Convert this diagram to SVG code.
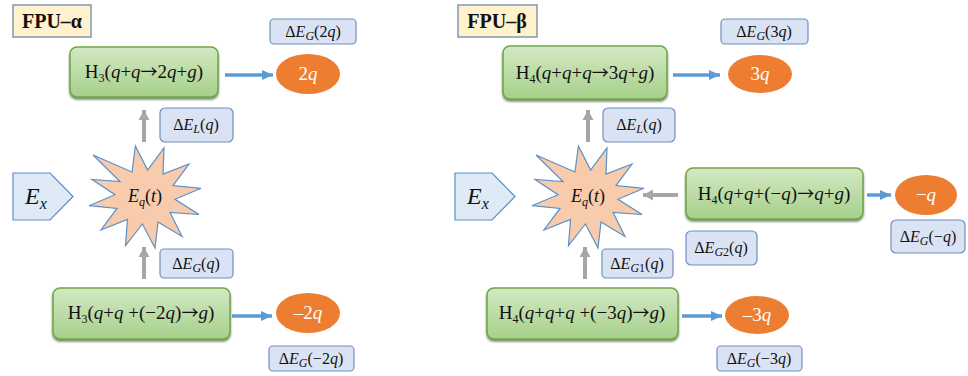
<svg xmlns="http://www.w3.org/2000/svg" width="968" height="376" viewBox="0 0 968 376" font-family="'Liberation Serif', 'Times New Roman', 'DejaVu Serif', serif">
<defs>
<linearGradient id="gr" x1="0" y1="0" x2="0" y2="1">
<stop offset="0" stop-color="#D3E9C4"/>
<stop offset="1" stop-color="#A6D08A"/>
</linearGradient>
<filter id="sh" x="-10%" y="-20%" width="120%" height="150%">
<feDropShadow dx="0" dy="2" stdDeviation="1.2" flood-color="#3A5A28" flood-opacity="0.7"/>
</filter>
<marker id="ag" markerUnits="userSpaceOnUse" markerWidth="12" markerHeight="12" refX="10" refY="6" orient="auto">
<path d="M0,0.5 L10,6 L0,11.5 Z" fill="#A6A6A6"/>
</marker>
<marker id="ab" markerUnits="userSpaceOnUse" markerWidth="12" markerHeight="12" refX="11" refY="6" orient="auto">
<path d="M0,1 L11,6 L0,11 Z" fill="#5B9BD5"/>
</marker>
<path id="star" d="M-9.6,-51 L2.6,-27 L19,-49 L18,-23 L44,-33 L28,-11.4 L56,-8.7 L30,2.3 L54,17.5 L25,15.5 L37,39.5 L13,25 L10,51 L-2.6,27 L-19.5,48.5 L-17.5,22.5 L-44,33 L-28,11.4 L-56,8.7 L-30,-2.3 L-53,-17.5 L-25,-15.5 L-52,-42 L-13,-25 Z"/>
</defs>
<style>
text{font-family:'Liberation Serif','Times New Roman','DejaVu Serif',serif;fill:#111}
.ar{font-family:'Noto Sans CJK SC','DejaVu Sans',sans-serif;font-size:17px}
.t{font-size:19px}
.l{font-size:16px}
.i{font-style:italic}
.s{font-size:12px}
.fpu{fill:#FFF2CC;stroke:#8497B0;stroke-width:1.5}
.fput{font-size:20px;font-weight:bold}
.box{fill:url(#gr);stroke:#6FA54B;stroke-width:1.5;filter:url(#sh)}
.lab{fill:#DAE3F3;stroke:#6F8FBF;stroke-width:1.2}
.ov{fill:#ED7D31}
.ot{font-size:19px;fill:#fff}
.ex{fill:#DEEBF7;stroke:#5B8FC8;stroke-width:1.2}
.st{fill:#F8CBAD;stroke:#5B8FC8;stroke-width:1.2}
.cg{stroke:#A6A6A6;stroke-width:4;fill:none;marker-end:url(#ag)}
.cb{stroke:#5B9BD5;stroke-width:3.5;fill:none;marker-end:url(#ab)}
</style>

<g id="connectors">
<line class="cg" x1="144" y1="142" x2="144" y2="110"/>
<line class="cg" x1="144" y1="279" x2="144" y2="247"/>
<line class="cb" x1="225" y1="75" x2="273" y2="75"/>
<line class="cb" x1="232" y1="316" x2="272" y2="316"/>
<line class="cg" x1="588" y1="142" x2="588" y2="110"/>
<line class="cg" x1="585" y1="279" x2="585" y2="247"/>
<line class="cg" x1="678" y1="195" x2="643" y2="195"/>
<line class="cb" x1="673" y1="75" x2="720" y2="75"/>
<line class="cb" x1="867" y1="195" x2="891" y2="195"/>
<line class="cb" x1="682" y1="316" x2="722" y2="316"/>
</g>

<!-- Left panel -->
<g id="fpu-alpha">
<rect class="fpu" x="13" y="5" width="78" height="32"/>
<text class="fput" x="52" y="28" text-anchor="middle">FPU–α</text>
</g>
<g id="dEG2q">
<rect class="lab" x="270" y="19" width="86" height="25" rx="4"/>
<text class="l" x="313" y="37" text-anchor="middle">Δ<tspan class="i">E</tspan><tspan class="i s" dy="3">G</tspan><tspan dy="-3">(2</tspan><tspan class="i">q</tspan>)</text>
</g>
<g id="H3top">
<rect class="box" x="70" y="47" width="148" height="50" rx="7"/>
<text class="t" x="144" y="78" text-anchor="middle">H<tspan class="s" dy="4">3</tspan><tspan dy="-4">(</tspan><tspan class="i">q</tspan>+<tspan class="i">q</tspan><tspan class="ar">→</tspan>2<tspan class="i">q</tspan>+<tspan class="i">g</tspan>)</text>
</g>
<g id="o2q">
<ellipse class="ov" cx="308" cy="74" rx="32" ry="20"/>
<text class="ot" x="308" y="80" text-anchor="middle">2<tspan class="i">q</tspan></text>
</g>
<g id="dELq">
<rect class="lab" x="160" y="108" width="73" height="34" rx="5"/>
<text class="l" x="196" y="130" text-anchor="middle">Δ<tspan class="i">E</tspan><tspan class="i s" dy="3">L</tspan><tspan dy="-3">(</tspan><tspan class="i">q</tspan>)</text>
</g>
<g id="Ex-left">
<path class="ex" d="M13,173 L50,173 L73,196.5 L50,220 L13,220 Z"/>
<text x="36" y="204" text-anchor="middle" style="font-size:24px" class="i">E<tspan style="font-size:16px" dy="5">x</tspan></text>
</g>
<g id="star-left">
<use href="#star" class="st" transform="translate(145,197)"/>
<text x="145" y="202" text-anchor="middle" style="font-size:18px"><tspan class="i">E</tspan><tspan class="i s" dy="4">q</tspan><tspan dy="-4">(</tspan><tspan class="i">t</tspan>)</text>
</g>
<g id="dEGq">
<rect class="lab" x="160" y="249" width="73" height="29" rx="4"/>
<text class="l" x="196" y="269" text-anchor="middle">Δ<tspan class="i">E</tspan><tspan class="i s" dy="3">G</tspan><tspan dy="-3">(</tspan><tspan class="i">q</tspan>)</text>
</g>
<g id="H3bot">
<rect class="box" x="53" y="288" width="177" height="51" rx="7"/>
<text class="t" x="141" y="319" text-anchor="middle">H<tspan class="s" dy="4">3</tspan><tspan dy="-4">(</tspan><tspan class="i">q</tspan>+<tspan class="i">q</tspan> +(−2<tspan class="i">q</tspan>)<tspan class="ar">→</tspan><tspan class="i">g</tspan>)</text>
</g>
<g id="om2q">
<ellipse class="ov" cx="308" cy="313" rx="32" ry="20"/>
<text class="ot" x="308" y="319" text-anchor="middle">–2<tspan class="i">q</tspan></text>
</g>
<g id="dEGm2q">
<rect class="lab" x="269" y="346" width="85" height="25" rx="4"/>
<text class="l" x="311" y="364" text-anchor="middle">Δ<tspan class="i">E</tspan><tspan class="i s" dy="3">G</tspan><tspan dy="-3">(−2</tspan><tspan class="i">q</tspan>)</text>
</g>

<!-- Right panel -->
<g id="fpu-beta">
<rect class="fpu" x="458" y="5" width="79" height="32"/>
<text class="fput" x="497" y="28" text-anchor="middle">FPU–β</text>
</g>
<g id="dEG3q">
<rect class="lab" x="721" y="19" width="87" height="25" rx="4"/>
<text class="l" x="764" y="37" text-anchor="middle">Δ<tspan class="i">E</tspan><tspan class="i s" dy="3">G</tspan><tspan dy="-3">(3</tspan><tspan class="i">q</tspan>)</text>
</g>
<g id="H4top">
<rect class="box" x="503" y="46" width="164" height="53" rx="7"/>
<text class="t" x="585" y="79" text-anchor="middle">H<tspan class="s" dy="4">4</tspan><tspan dy="-4">(</tspan><tspan class="i">q</tspan>+<tspan class="i">q</tspan>+<tspan class="i">q</tspan><tspan class="ar">→</tspan>3<tspan class="i">q</tspan>+<tspan class="i">g</tspan>)</text>
</g>
<g id="o3q">
<ellipse class="ov" cx="760" cy="74" rx="32" ry="19"/>
<text class="ot" x="760" y="80" text-anchor="middle">3<tspan class="i">q</tspan></text>
</g>
<g id="dELq-r">
<rect class="lab" x="603" y="108" width="72" height="34" rx="5"/>
<text class="l" x="639" y="130" text-anchor="middle">Δ<tspan class="i">E</tspan><tspan class="i s" dy="3">L</tspan><tspan dy="-3">(</tspan><tspan class="i">q</tspan>)</text>
</g>
<g id="Ex-right">
<path class="ex" d="M455,173 L492,173 L515,196.5 L492,220 L455,220 Z"/>
<text x="478" y="204" text-anchor="middle" style="font-size:24px" class="i">E<tspan style="font-size:16px" dy="5">x</tspan></text>
</g>
<g id="star-right">
<use href="#star" class="st" transform="translate(588,197)"/>
<text x="588" y="202" text-anchor="middle" style="font-size:18px"><tspan class="i">E</tspan><tspan class="i s" dy="4">q</tspan><tspan dy="-4">(</tspan><tspan class="i">t</tspan>)</text>
</g>
<g id="H4mid">
<rect class="box" x="686" y="168" width="177" height="51" rx="7"/>
<text class="t" x="774" y="200" text-anchor="middle">H<tspan class="s" dy="4">4</tspan><tspan dy="-4">(</tspan><tspan class="i">q</tspan>+<tspan class="i">q</tspan>+(−<tspan class="i">q</tspan>)<tspan class="ar">→</tspan><tspan class="i">q</tspan>+<tspan class="i">g</tspan>)</text>
</g>
<g id="omq">
<ellipse class="ov" cx="926" cy="195" rx="31" ry="20"/>
<text class="ot" x="926" y="201" text-anchor="middle">−<tspan class="i">q</tspan></text>
</g>
<g id="dEGmq">
<rect class="lab" x="891" y="220" width="74" height="33" rx="5"/>
<text class="l" x="928" y="242" text-anchor="middle">Δ<tspan class="i">E</tspan><tspan class="i s" dy="3">G</tspan><tspan dy="-3">(−</tspan><tspan class="i">q</tspan>)</text>
</g>
<g id="dEG2q-r">
<rect class="lab" x="686" y="231" width="71" height="34" rx="5"/>
<text class="l" x="721" y="253" text-anchor="middle">Δ<tspan class="i">E</tspan><tspan class="s" dy="3"><tspan class="i">G</tspan>2</tspan><tspan dy="-3">(</tspan><tspan class="i">q</tspan>)</text>
</g>
<g id="dEG1q">
<rect class="lab" x="602" y="249" width="71" height="29" rx="4"/>
<text class="l" x="637" y="269" text-anchor="middle">Δ<tspan class="i">E</tspan><tspan class="s" dy="3"><tspan class="i">G</tspan>1</tspan><tspan dy="-3">(</tspan><tspan class="i">q</tspan>)</text>
</g>
<g id="H4bot">
<rect class="box" x="487" y="288" width="191" height="51" rx="7"/>
<text class="t" x="582" y="319" text-anchor="middle">H<tspan class="s" dy="4">4</tspan><tspan dy="-4">(</tspan><tspan class="i">q</tspan>+<tspan class="i">q</tspan>+<tspan class="i">q</tspan> +(−3<tspan class="i">q</tspan>)<tspan class="ar">→</tspan><tspan class="i">g</tspan>)</text>
</g>
<g id="om3q">
<ellipse class="ov" cx="757" cy="315" rx="32" ry="19"/>
<text class="ot" x="757" y="321" text-anchor="middle">–3<tspan class="i">q</tspan></text>
</g>
<g id="dEGm3q">
<rect class="lab" x="717" y="346" width="85" height="25" rx="4"/>
<text class="l" x="759" y="364" text-anchor="middle">Δ<tspan class="i">E</tspan><tspan class="i s" dy="3">G</tspan><tspan dy="-3">(−3</tspan><tspan class="i">q</tspan>)</text>
</g>
</svg>
